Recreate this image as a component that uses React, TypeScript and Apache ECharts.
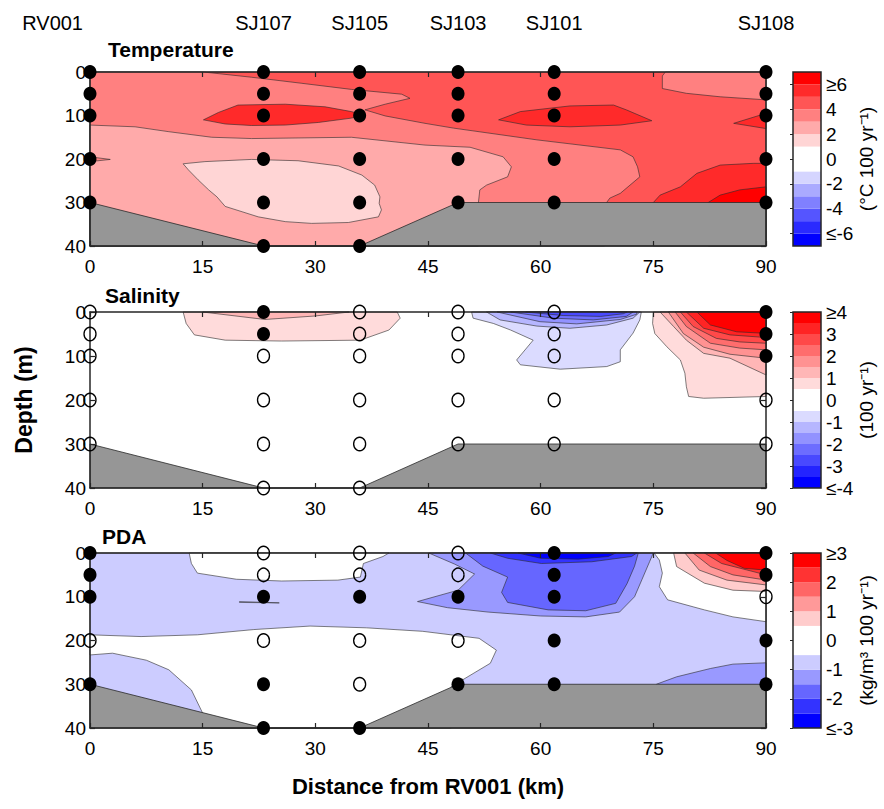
import React, { useEffect, useRef } from "react";
import * as echarts from "echarts";

const FONT = "'Liberation Sans', Arial, Helvetica, sans-serif";

// Stations along the transect (km from RV001)
const stationNames = ["RV001", "SJ107", "SJ105", "SJ103", "SJ101", "SJ108"];
const stationKm = [0, 23.1, 35.9, 49.0, 61.8, 90];
const sampleDepths = [
  [0, 5, 10, 20, 30],
  [0, 5, 10, 20, 30, 40],
  [0, 5, 10, 20, 30, 40],
  [0, 5, 10, 20, 30],
  [0, 5, 10, 20, 30],
  [0, 5, 10, 20, 30],
];
// 1 = significant (filled marker), 0 = not significant (open marker)
const tempSig = [
  [1, 1, 1, 1, 1],
  [1, 1, 1, 1, 1, 1],
  [1, 1, 1, 1, 1, 1],
  [1, 1, 1, 1, 1],
  [1, 1, 1, 1, 1],
  [1, 1, 1, 1, 1],
];
const salSig = [
  [0, 0, 0, 0, 0],
  [1, 1, 0, 0, 0, 0],
  [0, 0, 0, 0, 0, 0],
  [0, 0, 0, 0, 0],
  [0, 0, 0, 0, 0],
  [1, 1, 1, 0, 0],
];
const pdaSig = [
  [1, 1, 1, 0, 1],
  [0, 0, 1, 0, 1, 1],
  [0, 0, 1, 0, 0, 1],
  [0, 0, 1, 0, 1],
  [1, 1, 1, 1, 1],
  [1, 1, 0, 1, 1],
];

// Sea floor (km, depth m)
const bathymetry = [[0, 30], [23.1, 40], [35.9, 40], [49.0, 30], [90, 30]];

// Contour regions [band level, outline (km, depth)], drawn in order
const tempRegions: [number, number[][]][] = [
  [4, [[0, 0], [90, 0], [90, 40], [0, 40]]],
  [3, [[0, 0], [15.1, 0], [21.5, 1.2], [28.2, 2.6], [34.8, 4.0], [41.5, 5.1], [42.6, 6.05], [39.3, 7.4], [36.6, 8.7], [39.3, 10.1], [44.6, 11.8], [48.4, 12.9], [59.5, 15.6], [70.6, 17.9], [72.3, 19.5], [72.9, 21.8], [73.2, 24.1], [70.6, 27.9], [69.2, 29.0], [68.7, 30.2], [68.5, 40], [0, 40]]],
  [2, [[0, 12.2], [6.0, 12.6], [10.4, 13.7], [16.2, 15.0], [21.5, 15.3], [34.8, 15.0], [44.6, 16.8], [50.6, 17.3], [55.0, 19.5], [56.1, 21.8], [55.6, 24.1], [52.8, 26.0], [51.9, 27.1], [51.7, 30.2], [51.7, 40], [0, 40]]],
  [3, [[0, 19.5], [2.7, 20.1], [0, 20.6]]],
  [1, [[12.4, 21.1], [15.3, 20.6], [21.5, 20.1], [27.7, 20.4], [33.1, 21.6], [36.2, 23.7], [37.9, 26.0], [38.6, 28.7], [38.5, 30.2], [38.8, 31.7], [38.4, 33.3], [34.4, 34.6], [29.5, 34.8], [26.0, 34.4], [22.4, 33.3], [18.0, 30.9], [16.9, 28.7], [15.8, 27.1], [14.4, 24.8], [13.1, 22.5]]],
  [3, [[76.6, 0], [76.2, 0.9], [76.2, 3.8], [79.4, 4.9], [83.9, 5.7], [90, 6.4], [90, 0]]],
  [5, [[15.1, 11.0], [17.1, 9.3], [19.7, 7.6], [26.0, 7.4], [31.3, 8.0], [34.8, 9.1], [36.4, 9.9], [34.8, 10.6], [30.4, 11.6], [26.0, 12.2], [21.5, 12.3], [18.0, 11.95]]],
  [5, [[54.4, 11.0], [57.3, 9.1], [63.9, 7.8], [69.7, 7.6], [71.4, 8.7], [74.8, 11.2], [70.6, 12.2], [63.9, 12.6], [58.1, 12.2]]],
  [5, [[85.7, 11.8], [90, 9.5], [90, 13.0]]],
  [5, [[75.0, 30], [75.9, 28.3], [78.6, 26.4], [80.8, 23.3], [83.9, 21.4], [88.3, 21.0], [90, 21.0], [90, 40], [75.0, 40]]],
  [6, [[82.3, 30], [83.9, 28.3], [86.5, 27.1], [90, 26.4], [90, 40], [82.3, 40]]],
];

const salRegions: [number, number[][]][] = [
  [1, [[12.4, 0], [12.8, 2.6], [13.9, 5.2], [18.0, 6.4], [25.5, 6.6], [36.0, 6.4], [39.8, 4.1], [41.3, 1.4], [40.9, 0]]],
  [2, [[15.0, 0], [23.3, 1.7], [30.0, 0.9], [34.5, 0]]],
  [-1, [[50.8, 0], [51.0, 1.4], [53.7, 2.6], [56.0, 4.1], [59.0, 6.4], [56.8, 10.9], [57.3, 12.0], [62.6, 13.0], [68.8, 12.4], [70.6, 11.3], [70.6, 8.6], [72.3, 4.8], [73.2, 1.8], [73.4, 0]]],
  [-2, [[52.8, 0], [54.6, 1.8], [59.5, 3.2], [63.9, 3.7], [68.8, 2.95], [72.3, 1.4], [73.2, 0]]],
  [-3, [[54.2, 0], [59.9, 2.2], [64.8, 2.7], [70.6, 1.7], [72.8, 0.5], [72.8, 0]]],
  [-4, [[56.0, 0], [61.7, 1.4], [67.0, 1.8], [71.4, 1.0], [72.3, 0]]],
  [-5, [[58.0, 0], [63.0, 0.8], [68.0, 1.0], [71.0, 0.4], [71.5, 0]]],
  [1, [[75.0, 0], [74.9, 2.6], [75.2, 4.9], [76.8, 7.9], [78.6, 10.9], [79.2, 13.9], [79.4, 17.0], [79.7, 19.2], [81.7, 19.6], [90, 19.2], [90, 0]]],
  [2, [[75.9, 0], [77.7, 3.3], [79.4, 6.4], [81.7, 9.4], [85.2, 10.5], [90, 14.3], [90, 0]]],
  [3, [[77.0, 0], [79.0, 4.9], [81.7, 8.0], [85.2, 9.6], [90, 10.5], [90, 0]]],
  [4, [[77.9, 0], [79.4, 3.3], [82.6, 7.1], [86.5, 8.2], [90, 8.6], [90, 0]]],
  [5, [[78.6, 0], [80.3, 3.3], [83.4, 6.0], [86.5, 6.8], [90, 7.1], [90, 0]]],
  [6, [[79.4, 0], [81.7, 3.7], [85.2, 5.2], [90, 5.8], [90, 0]]],
  [7, [[80.8, 0], [82.6, 2.95], [86.1, 4.5], [90, 4.85], [90, 0]]],
];

const pdaRegions: [number, number[][]][] = [
  [-1, [[0, 0], [90, 0], [90, 40], [0, 40]]],
  [0, [[13.2, 0], [13.5, 2.4], [14.3, 4.6], [19.5, 6.0], [25.5, 6.4], [33.0, 6.2], [36.0, 5.5], [36.4, 2.4], [39.0, 0.8], [39.8, 0]]],
  [0, [[0, 18.7], [6.8, 19.1], [14.3, 18.7], [21.8, 17.5], [29.3, 16.7], [36.8, 17.1], [44.3, 17.9], [51.8, 19.5], [54.1, 22.2], [53.3, 25.2], [49.6, 29.0], [48.1, 30.5], [48.1, 40], [16.0, 40], [15.0, 36.6], [13.5, 31.3], [10.5, 26.7], [7.5, 24.5], [3.0, 22.9], [0, 23.3]]],
  [0, [[75.1, 0], [75.8, 1.6], [76.2, 4.6], [75.8, 7.7], [76.9, 10.7], [80.3, 12.3], [81.8, 13.0], [85.6, 14.6], [90, 15.7], [90, 0]]],
  [1, [[77.7, 0], [78.1, 3.1], [81.8, 6.9], [85.6, 8.5], [90, 8.8], [90, 0]]],
  [2, [[79.2, 0], [81.1, 3.9], [84.8, 6.2], [90, 7.3], [90, 0]]],
  [3, [[80.3, 0], [82.6, 3.1], [85.6, 5.0], [90, 6.2], [90, 0]]],
  [4, [[81.8, 0], [84.1, 2.4], [90, 5.0], [90, 0]]],
  [5, [[83.3, 0], [84.8, 1.7], [87.1, 3.5], [90, 3.9], [90, 0]]],
  [-2, [[45.1, 0], [48.5, 2.5], [51.2, 4.8], [49.0, 8.5], [43.6, 11.1], [47.6, 12.5], [53.0, 13.5], [60.0, 14.4], [66.0, 14.6], [70.5, 13.5], [72.5, 10.0], [73.5, 6.0], [74.5, 2.0], [75.0, 0]]],
  [-3, [[50.0, 0], [52.3, 3.0], [55.6, 5.5], [54.8, 9.0], [55.6, 11.3], [61.0, 13.0], [66.0, 13.2], [70.0, 11.5], [71.5, 7.0], [72.5, 3.0], [73.0, 0]]],
  [-4, [[53.3, 0], [55.6, 1.2], [60.1, 2.4], [66.8, 2.0], [72.1, 0.8], [72.8, 0]]],
  [-5, [[57.0, 0], [60.0, 1.2], [65.0, 1.4], [69.0, 0.8], [70.0, 0]]],
  [-2, [[75.4, 30], [78.1, 28.3], [82.6, 26.4], [85.6, 25.4], [90, 25.1], [90, 40], [75.4, 40]]],
  [-1, [[19.9, 11.1], [25.2, 11.4], [19.9, 11.3]]],
];

// Colour bars: bands per side, band width, tick values
const tempBandsPerSide = 6;
const tempBandStep = 1;
const tempTicks = [-6, -4, -2, 0, 2, 4, 6];
const salBandsPerSide = 7;
const salBandStep = 0.5;
const salTicks = [-4, -3, -2, -1, 0, 1, 2, 3, 4];
const pdaBandsPerSide = 5;
const pdaBandStep = 0.5;
const pdaTicks = [-3, -2, -1, 0, 1, 2, 3];

const panelTitles = ["Temperature", "Salinity", "PDA"];
const unitLabels = ["(°C 100 yr⁻¹)", "(100 yr⁻¹)", "(kg/m³ 100 yr⁻¹)"];

function bandColor(k: number, n: number): string {
  if (k === 0) return "#ffffff";
  const c = Math.round(255 * (1 - Math.abs(k) / n));
  return k > 0 ? `rgb(255,${c},${c})` : `rgb(${c},${c},255)`;
}

const AXIS_COLOR = "#262626";

export default function App() {
  const ref = useRef<HTMLDivElement>(null);
  useEffect(() => {
    if (!ref.current) return;
    const chart = echarts.init(ref.current, undefined, { renderer: "svg" });

    const mainGrids = [
      { left: 90, top: 72, width: 676, height: 174 },
      { left: 90, top: 312, width: 676, height: 176 },
      { left: 90, top: 553, width: 676, height: 175 },
    ];
    const cbGrids = mainGrids.map((g) => ({ left: 793, top: g.top, width: 28, height: g.height }));

    const panels = [
      { regions: tempRegions, n: tempBandsPerSide, step: tempBandStep, ticks: tempTicks, sig: tempSig },
      { regions: salRegions, n: salBandsPerSide, step: salBandStep, ticks: salTicks, sig: salSig },
      { regions: pdaRegions, n: pdaBandsPerSide, step: pdaBandStep, ticks: pdaTicks, sig: pdaSig },
    ];

    const xAxes: any[] = [];
    const yAxes: any[] = [];
    const series: any[] = [];

    panels.forEach((p, g) => {
      const common = {
        gridIndex: g,
        type: "value",
        z: 5,
        splitLine: { show: false },
      };
      xAxes.push({
        ...common,
        min: 0,
        max: 90,
        interval: 15,
        position: "bottom",
        axisLine: { show: true, onZero: false, lineStyle: { color: AXIS_COLOR, width: 1.5 } },
        axisTick: { show: true, inside: true, length: 5, lineStyle: { color: AXIS_COLOR, width: 1.2 } },
        axisLabel: { show: true, margin: 11, fontSize: 19, color: "#000", fontFamily: FONT },
        ...(g === 2
          ? {
              name: "Distance from RV001 (km)",
              nameLocation: "middle",
              nameGap: 47,
              nameTextStyle: { fontSize: 22, fontWeight: "bold", color: "#000", fontFamily: FONT },
            }
          : {}),
      });
      xAxes.push({
        ...common,
        min: 0,
        max: 90,
        interval: 15,
        position: "top",
        axisLine: { show: true, onZero: false, lineStyle: { color: AXIS_COLOR, width: 1.5 } },
        axisTick: { show: true, inside: true, length: 5, lineStyle: { color: AXIS_COLOR, width: 1.2 } },
        axisLabel: { show: false },
      });
      yAxes.push({
        ...common,
        min: 0,
        max: 40,
        interval: 10,
        inverse: true,
        position: "left",
        axisLine: { show: true, onZero: false, lineStyle: { color: AXIS_COLOR, width: 1.5 } },
        axisTick: { show: true, inside: true, length: 5, lineStyle: { color: AXIS_COLOR, width: 1.2 } },
        axisLabel: { show: true, margin: 4, fontSize: 19, color: "#000", fontFamily: FONT },
        ...(g === 1
          ? {
              name: "Depth (m)",
              nameLocation: "middle",
              nameRotate: 90,
              nameGap: 55,
              nameTextStyle: { fontSize: 23, fontWeight: "bold", color: "#000", fontFamily: FONT },
            }
          : {}),
      });
      yAxes.push({
        ...common,
        min: 0,
        max: 40,
        interval: 10,
        inverse: true,
        position: "right",
        axisLine: { show: true, onZero: false, lineStyle: { color: AXIS_COLOR, width: 1.5 } },
        axisTick: { show: true, inside: true, length: 5, lineStyle: { color: AXIS_COLOR, width: 1.2 } },
        axisLabel: { show: false },
      });

      // contour fills
      const regions = p.regions;
      series.push({
        type: "custom",
        coordinateSystem: "cartesian2d",
        xAxisIndex: 2 * g,
        yAxisIndex: 2 * g,
        z: 2,
        silent: true,
        data: regions.map((r) => r[1][0]),
        renderItem: (params: any, api: any) => {
          const r = regions[params.dataIndex];
          const pts = r[1].map((pt) => api.coord(pt));
          return {
            type: "polygon",
            shape: { points: pts },
            style: { fill: bandColor(r[0], p.n), stroke: "#2a2a2a", lineWidth: 0.6 },
          };
        },
      });

      // sea floor
      const floor = [...bathymetry, [90, 40], [0, 40]];
      series.push({
        type: "custom",
        coordinateSystem: "cartesian2d",
        xAxisIndex: 2 * g,
        yAxisIndex: 2 * g,
        z: 3,
        silent: true,
        data: [floor[0]],
        renderItem: (_params: any, api: any) => ({
          type: "polygon",
          shape: { points: floor.map((pt) => api.coord(pt)) },
          style: { fill: "#969696", stroke: "#2a2a2a", lineWidth: 0.8 },
        }),
      });

      // sample markers
      const filled: number[][] = [];
      const open: number[][] = [];
      stationKm.forEach((km, s) => {
        sampleDepths[s].forEach((d, j) => {
          (p.sig[s][j] ? filled : open).push([km, d]);
        });
      });
      series.push({
        type: "scatter",
        xAxisIndex: 2 * g,
        yAxisIndex: 2 * g,
        z: 10,
        clip: false,
        silent: true,
        symbol: "circle",
        symbolSize: [13, 14],
        itemStyle: { color: "#000", opacity: 1 },
        data: filled,
      });
      series.push({
        type: "scatter",
        xAxisIndex: 2 * g,
        yAxisIndex: 2 * g,
        z: 10,
        clip: false,
        silent: true,
        symbol: "circle",
        symbolSize: [12, 13.5],
        itemStyle: { color: "rgba(0,0,0,0)", borderColor: "#000", borderWidth: 1.4, opacity: 1 },
        data: open,
      });
    });

    // colour bars
    panels.forEach((p, g) => {
      const gi = 3 + g;
      const R = (p.n + 1) * p.step;
      const bands: number[][] = [];
      for (let i = 0; i < 2 * (p.n + 1); i++) {
        const lo = -R + i * p.step;
        const hi = lo + p.step;
        const k = lo >= -1e-9 ? Math.round(lo / p.step) : -Math.round(-hi / p.step);
        bands.push([lo, hi, k]);
      }
      const tmin = p.ticks[0];
      const tmax = p.ticks[p.ticks.length - 1];
      xAxes.push({ gridIndex: gi, type: "value", min: 0, max: 1, show: false });
      yAxes.push({
        gridIndex: gi,
        type: "value",
        min: -R,
        max: R,
        position: "right",
        z: 5,
        splitLine: { show: false },
        axisLine: { show: false },
        axisTick: { show: true, inside: true, length: 3, customValues: p.ticks, lineStyle: { color: AXIS_COLOR } },
        axisLabel: {
          show: true,
          customValues: p.ticks,
          margin: 5,
          fontSize: 19,
          color: "#000",
          fontFamily: FONT,
          formatter: (v: number) => (v === tmax ? "≥" + v : v === tmin ? "≤" + v : String(v)),
        },
        name: unitLabels[g],
        nameLocation: "middle",
        nameRotate: 90,
        nameGap: 30,
        nameTextStyle: { fontSize: 19, color: "#000", fontFamily: FONT },
      });
      const data = bands.map((b) => [0.5, (b[0] + b[1]) / 2]);
      data.push([0.5, 0]);
      series.push({
        type: "custom",
        coordinateSystem: "cartesian2d",
        xAxisIndex: 6 + g,
        yAxisIndex: 6 + g,
        z: 2,
        silent: true,
        data,
        renderItem: (params: any, api: any) => {
          const i = params.dataIndex;
          if (i === bands.length) {
            const a = api.coord([0, R]);
            const b = api.coord([1, -R]);
            return {
              type: "rect",
              shape: { x: a[0], y: a[1], width: b[0] - a[0], height: b[1] - a[1] },
              style: { fill: "none", stroke: AXIS_COLOR, lineWidth: 1.5 },
              z2: 10,
            };
          }
          const [lo, hi, k] = bands[i];
          const a = api.coord([0, hi]);
          const b = api.coord([1, lo]);
          return {
            type: "rect",
            shape: { x: a[0], y: a[1], width: b[0] - a[0], height: b[1] - a[1] },
            style: { fill: bandColor(k, p.n), stroke: null },
          };
        },
      });
    });

    const titleStyle = { fontSize: 21, fontWeight: "bold", color: "#000", fontFamily: FONT };
    const option: any = {
      animation: false,
      backgroundColor: "#ffffff",
      title: [
        { text: panelTitles[0], left: 108, top: 39, padding: 0, textStyle: titleStyle },
        { text: panelTitles[1], left: 105, top: 285, padding: 0, textStyle: titleStyle },
        { text: panelTitles[2], left: 102, top: 526, padding: 0, textStyle: titleStyle },
      ],
      grid: [...mainGrids, ...cbGrids],
      xAxis: xAxes,
      yAxis: yAxes,
      series,
    };
    chart.setOption(option);

    // station names above the top panel, placed with the x scale
    const labels = stationNames.map((name, i) => {
      const [px] = chart.convertToPixel({ gridIndex: 0 }, [stationKm[i], 0]) as number[];
      const first = i === 0;
      return {
        type: "text",
        x: first ? px - 7 : px,
        y: 23,
        style: {
          text: name,
          fontSize: 20,
          fontFamily: FONT,
          fill: "#000",
          align: first ? "right" : "center",
          verticalAlign: "middle",
        },
      };
    });
    chart.setOption({ graphic: labels });

    return () => chart.dispose();
  }, []);

  return (
    <div
      ref={ref}
      style={{ position: "fixed", left: 0, top: 0, width: 884, height: 809, background: "#fff" }}
    />
  );
}
